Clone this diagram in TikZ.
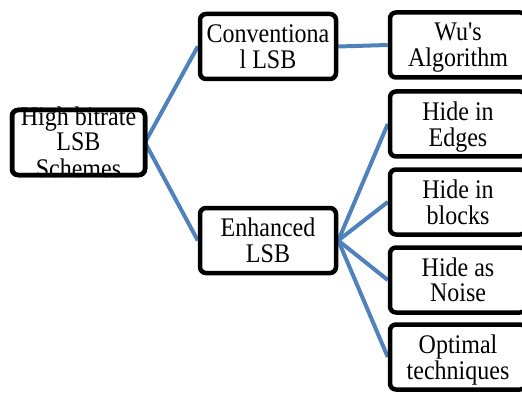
\documentclass[tikz,border=0pt]{standalone}
\usepackage{fontspec}
\setmainfont{Liberation Serif}
\usetikzlibrary{backgrounds}
\definecolor{linkblue}{HTML}{4F81BD}
\newcommand{\stx}[1]{\raisebox{-3.5pt}[\height][\depth]{\scalebox{1}[1.12]{\begin{tabular}{@{}c@{}}#1\end{tabular}}}}
\newcommand{\stxover}[1]{\raisebox{-10.2pt}[0pt][0pt]{\scalebox{1}[1.12]{\begin{tabular}{@{}c@{}}#1\end{tabular}}}}
\tikzset{
  box/.style={draw=black, line width=4.5pt, rounded corners=6pt, fill=white,
    minimum width=134pt, minimum height=65pt, align=center, inner sep=0pt,
    font=\fontsize{24}{22.3}\selectfont},
  link/.style={draw=linkblue, line width=4pt},
  frame/.style={draw=black, line width=4.5pt, rounded corners=6pt}
}
\begin{document}
\begin{tikzpicture}[x=1pt,y=-1pt]
\useasboundingbox (0,0) rectangle (522,393);
\node[box,minimum width=133pt,outer sep=0pt] (root) at (78.5,142.5) {\stxover{High bitrate\\LSB\\Schemes}};
\draw[frame] (root.south west) rectangle (root.north east);
\node[box,minimum width=136pt] (conv) at (268,46.5) {\stx{Conventiona\\l LSB}};
\node[box,minimum width=136pt] (enh) at (268,240.5) {\stx{Enhanced\\LSB}};
\node[box,minimum width=136pt] (wu) at (458,45) {\stx{Wu\textquotesingle s\\Algorithm}};
\node[box,minimum width=136pt] (edges) at (458,124) {\stx{Hide in\\Edges}};
\node[box,minimum width=136pt] (blocks) at (458,202) {\stx{Hide in\\blocks}};
\node[box,minimum width=136pt] (noise) at (458,280) {\stx{Hide as\\Noise}};
\node[box,minimum width=136pt] (optimal) at (458,357) {\stx{Optimal\\techniques}};
\begin{scope}[on background layer]
\draw[link] (root.east) -- (conv.west);
\draw[link] (root.east) -- (enh.west);
\draw[link] (conv.east) -- (wu.west);
\draw[link] (enh.east) -- (edges.west);
\draw[link] (enh.east) -- (blocks.west);
\draw[link] (enh.east) -- (noise.west);
\draw[link] (enh.east) -- (optimal.west);
\end{scope}
\end{tikzpicture}
\end{document}
